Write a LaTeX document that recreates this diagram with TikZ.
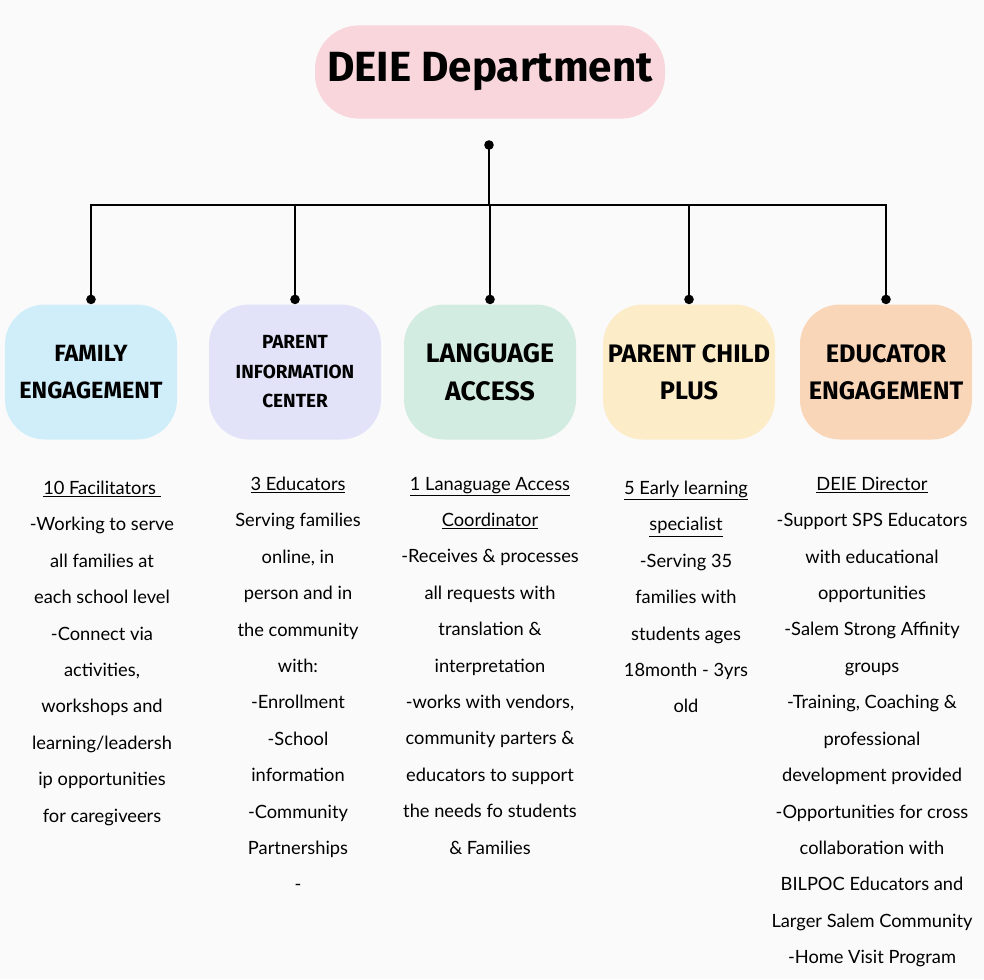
\documentclass[tikz,border=0pt]{standalone}
\usepackage{fontspec}
\setmainfont{Lato}
\newfontfamily\headfont{Fira Sans}
\usetikzlibrary{positioning}
\usetikzlibrary{calc}
\definecolor{paper}{RGB}{250,250,250}
\definecolor{toppink}{RGB}{249,214,220}
\definecolor{famblue}{RGB}{208,238,250}
\definecolor{piclav}{RGB}{226,226,248}
\definecolor{langmint}{RGB}{211,236,225}
\definecolor{pcpcream}{RGB}{252,236,200}
\definecolor{edupeach}{RGB}{250,214,185}
\tikzset{unit/.style={rounded corners=1cm, minimum width=4.3cm, minimum height=3.375cm,
		align=center, font=\headfont\bfseries\fontsize{18}{26}\selectfont},
	info/.style={align=center, anchor=north, font=\fontsize{13}{25.9}\selectfont},
	link/.style={line width=1.6pt, draw=black}}

\begin{document}
\begin{tikzpicture}
	\useasboundingbox (0,0) rectangle (24.6,-24.475);
	\fill[paper] (0,0) rectangle (24.6,-24.475);
	
	% Top
	\node[fill=toppink, rounded corners=1.1cm, minimum width=8.75cm, minimum height=2.33cm,
	font=\headfont\bfseries\fontsize{30}{36}\selectfont] (deie) at (12.25,-1.8) {DEIE Department};
	
	% Units
	\node[unit, fill=famblue, font=\headfont\bfseries\fontsize{16.7}{26}\selectfont] (fam) at (2.275,-9.3) {FAMILY\\ENGAGEMENT};
	\node[unit, fill=piclav, font=\headfont\bfseries\fontsize{13.5}{21}\selectfont] (pic) at (7.375,-9.3) {PARENT\\INFORMATION\\CENTER};
	\node[unit, fill=langmint, font=\headfont\bfseries\fontsize{19}{27}\selectfont] (lang) at (12.25,-9.3) {LANGUAGE\\ACCESS};
	\node[unit, fill=pcpcream] (pcp) at (17.225,-9.3) {PARENT CHILD\\PLUS};
	\node[unit, fill=edupeach] (edu) at (22.15,-9.3) {EDUCATOR\\ENGAGEMENT};
	
	% Connectors
	\coordinate (hub) at (12.225,-3.625);
	\coordinate (bus) at (12.225,-5.125);
	\draw[link] (hub) -- (bus);
	\fill (hub) circle (0.12);
	\foreach \n in {fam,pic,lang,pcp,edu}{
		\coordinate (\n-in) at ($(\n.north)+(0,0.12)$);
		\draw[link] (bus) -| (\n-in);
		\fill (\n-in) circle (0.12);
	}
	
	% Details
	\node[info] (fam-txt) at (2.55,-11.9) {\underline{10 Facilitators }\\-Working to serve\\all families at\\each school level\\-Connect via\\activities,\\workshops and\\learning/leadersh\\ip opportunities\\for caregiveers};
	\node[info] (pic-txt) at (7.45,-11.8) {\underline{3 Educators}\\Serving families\\online, in\\person and in\\the community\\with:\\-Enrollment\\-School\\information\\-Community\\Partnerships\\-};
	\node[info] (lang-txt) at (12.25,-11.8) {\underline{1 Lanaguage Access}\\\underline{Coordinator}\\-Receives \& processes\\all requests with\\translation \&\\interpretation\\-works with vendors,\\community parters \&\\educators to support\\the needs fo students\\\& Families};
	\node[info] (pcp-txt) at (17.15,-11.9) {\underline{5 Early learning}\\\underline{specialist}\\-Serving 35\\families with\\students ages\\18month - 3yrs\\old};
	\node[info] (edu-txt) at (21.8,-11.8) {\underline{DEIE Director}\\-Support SPS Educators\\with educational\\opportunities\\-Salem Strong Affinity\\groups\\-Training, Coaching \&\\professional\\development provided\\-Opportunities for cross\\collaboration with\\BILPOC Educators and\\Larger Salem Community\\-Home Visit Program};
\end{tikzpicture}
\end{document}
